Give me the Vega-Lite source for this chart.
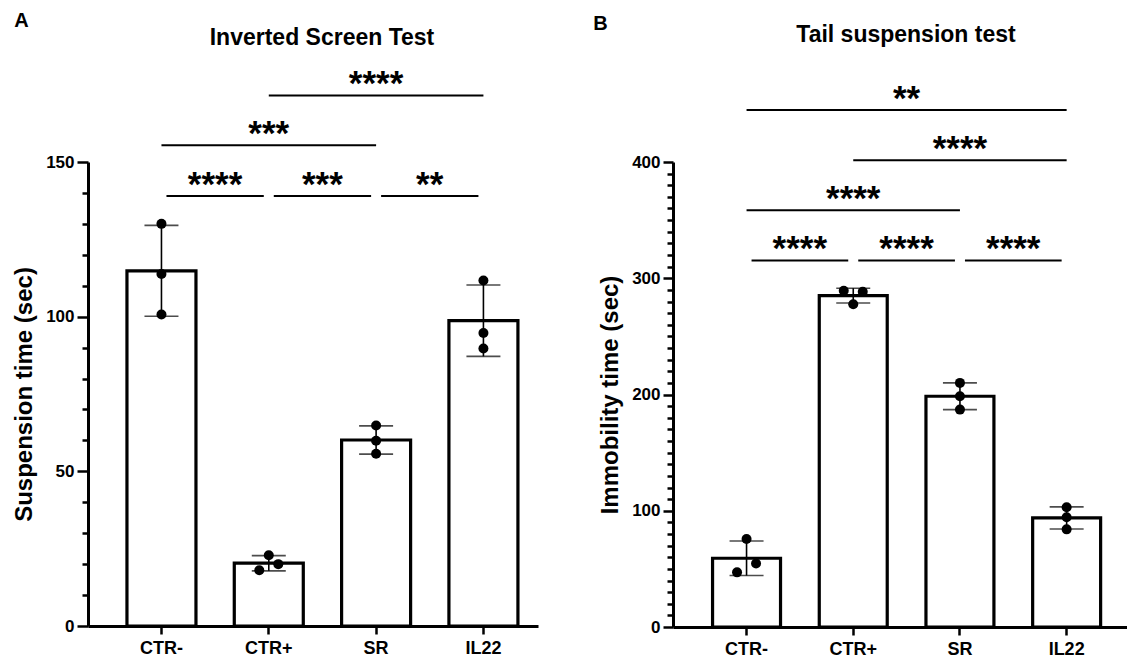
{
  "$schema": "https://vega.github.io/schema/vega-lite/v6.json",
  "padding": {"left": 12, "top": 11, "right": 0, "bottom": 2},
  "spacing": 55,
  "config": {
    "font": "Liberation Sans",
    "view": {"stroke": null},
    "axis": {
      "domainColor": "black", "domainWidth": 3, "tickColor": "black", "tickWidth": 2.5,
      "labelColor": "black", "labelFontWeight": "bold", "labelFontSize": 17, "labelFont": "Liberation Sans",
      "titleColor": "black", "titleFontWeight": "bold", "titleFontSize": 24, "titleFont": "Liberation Sans",
      "grid": false
    },
    "axisX": {"tickSize": 8, "labelFontSize": 18, "labelPadding": 5, "labelAngle": 0},
    "axisY": {"labelPadding": 3, "titlePadding": 9.5, "labelOverlap": false, "labelFlush": false},
    "title": {"color": "black", "font": "Liberation Sans", "fontWeight": "bold"}
  },
  "datasets": {
    "ptsA": [
      {"group": "CTR-", "value": 130.0, "slot": "C"},
      {"group": "CTR-", "value": 113.8, "slot": "C"},
      {"group": "CTR-", "value": 100.7, "slot": "C"},
      {"group": "CTR+", "value": 22.9, "slot": "C"},
      {"group": "CTR+", "value": 20.0, "slot": "R"},
      {"group": "CTR+", "value": 18.0, "slot": "L"},
      {"group": "SR", "value": 64.8, "slot": "C"},
      {"group": "SR", "value": 59.9, "slot": "C"},
      {"group": "SR", "value": 55.7, "slot": "C"},
      {"group": "IL22", "value": 111.7, "slot": "C"},
      {"group": "IL22", "value": 94.7, "slot": "C"},
      {"group": "IL22", "value": 89.7, "slot": "C"}
    ],
    "ptsB": [
      {"group": "CTR-", "value": 75.7, "slot": "C"},
      {"group": "CTR-", "value": 54.7, "slot": "R"},
      {"group": "CTR-", "value": 47.0, "slot": "L"},
      {"group": "CTR+", "value": 289.2, "slot": "L"},
      {"group": "CTR+", "value": 288.3, "slot": "R"},
      {"group": "CTR+", "value": 277.7, "slot": "C"},
      {"group": "SR", "value": 210.0, "slot": "C"},
      {"group": "SR", "value": 198.5, "slot": "C"},
      {"group": "SR", "value": 187.0, "slot": "C"},
      {"group": "IL22", "value": 103.0, "slot": "C"},
      {"group": "IL22", "value": 94.4, "slot": "C"},
      {"group": "IL22", "value": 84.0, "slot": "C"}
    ],
    "sigA": [
      {"from": "CTR-", "to": "CTR+", "span": 1, "y": 139.0, "label": "****"},
      {"from": "CTR+", "to": "SR", "span": 1, "y": 139.0, "label": "***"},
      {"from": "SR", "to": "IL22", "span": 1, "y": 139.0, "label": "**"},
      {"from": "CTR-", "to": "SR", "span": 2, "y": 155.4, "label": "***"},
      {"from": "CTR+", "to": "IL22", "span": 2, "y": 171.5, "label": "****"}
    ],
    "sigB": [
      {"from": "CTR-", "to": "CTR+", "span": 1, "y": 315.3, "label": "****"},
      {"from": "CTR+", "to": "SR", "span": 1, "y": 315.3, "label": "****"},
      {"from": "SR", "to": "IL22", "span": 1, "y": 315.3, "label": "****"},
      {"from": "CTR-", "to": "SR", "span": 2, "y": 358.4, "label": "****"},
      {"from": "CTR+", "to": "IL22", "span": 2, "y": 401.5, "label": "****"},
      {"from": "CTR-", "to": "IL22", "span": 3, "y": 444.8, "label": "**"}
    ]
  },
  "hconcat": [
    {
      "title": {"text": "A", "anchor": "start", "fontSize": 20, "offset": -4, "dx": 2},
      "vconcat": [
        {
          "width": 450,
          "height": 464,
          "title": {"text": "Inverted Screen Test", "fontSize": 23, "offset": 17, "dx": 9},
          "encoding": {
            "x": {"field": "group", "type": "nominal", "title": null,
                  "scale": {"domain": ["CTR-", "CTR+", "SR", "IL22"], "paddingInner": 0.357, "paddingOuter": 0.275, "align": 0.66}},
            "y": {"field": "value", "type": "quantitative", "title": "Suspension time (sec)",
                  "scale": {"domain": [0, 150], "nice": false},
                  "axis": {"values": [0,10,20,30,40,50,60,70,80,90,100,110,120,130,140,150],
                           "labelExpr": "datum.value % 50 === 0 ? datum.label : ''",
                           "tickSize": {"condition": {"test": "datum.value % 50 === 0", "value": 11}, "value": 6}}}
          },
          "layer": [
            {
              "data": {"name": "ptsA"},
              "transform": [{"aggregate": [{"op": "mean", "field": "value", "as": "value"}], "groupby": ["group"]}],
              "mark": {"type": "bar", "fill": "white", "stroke": "black", "strokeWidth": 3.2}
            },
            {
              "data": {"name": "ptsA"},
              "mark": {"type": "errorbar", "extent": "stdev", "ticks": {"size": 34, "thickness": 1.6, "color": "black"}, "rule": {"strokeWidth": 1.6, "color": "black"}}
            },
            {
              "data": {"name": "ptsA"},
              "transform": [{"filter": "datum.slot === 'C'"}],
              "mark": {"type": "circle", "size": 100, "color": "black", "opacity": 1}
            },
            {
              "data": {"name": "ptsA"},
              "transform": [{"filter": "datum.slot === 'L'"}],
              "mark": {"type": "circle", "size": 100, "color": "black", "opacity": 1, "xOffset": -9.5}
            },
            {
              "data": {"name": "ptsA"},
              "transform": [{"filter": "datum.slot === 'R'"}],
              "mark": {"type": "circle", "size": 100, "color": "black", "opacity": 1, "xOffset": 9.5}
            },
            {
              "data": {"name": "sigA"},
              "transform": [{"filter": "datum.span === 1"}],
              "mark": {"type": "rule", "strokeWidth": 2, "color": "black", "xOffset": 5, "x2Offset": -5},
              "encoding": {"x": {"field": "from", "type": "nominal"}, "x2": {"field": "to"},
                           "y": {"field": "y", "type": "quantitative", "title": "Suspension time (sec)"}}
            },
            {
              "data": {"name": "sigA"},
              "transform": [{"filter": "datum.span > 1"}],
              "mark": {"type": "rule", "strokeWidth": 2, "color": "black"},
              "encoding": {"x": {"field": "from", "type": "nominal"}, "x2": {"field": "to"},
                           "y": {"field": "y", "type": "quantitative", "title": "Suspension time (sec)"}}
            },
            {
              "data": {"name": "sigA"},
              "transform": [{"filter": "datum.span === 1"}],
              "mark": {"type": "text", "fontSize": 35, "fontWeight": "bold", "baseline": "alphabetic", "dy": 0, "dx": 53.6, "color": "black"},
              "encoding": {"x": {"field": "from", "type": "nominal"},
                           "y": {"field": "y", "type": "quantitative", "title": "Suspension time (sec)"}, "text": {"field": "label"}}
            },
            {
              "data": {"name": "sigA"},
              "transform": [{"filter": "datum.span === 2"}],
              "mark": {"type": "text", "fontSize": 35, "fontWeight": "bold", "baseline": "alphabetic", "dy": 0, "dx": 107.3, "color": "black"},
              "encoding": {"x": {"field": "from", "type": "nominal"},
                           "y": {"field": "y", "type": "quantitative", "title": "Suspension time (sec)"}, "text": {"field": "label"}}
            }
          ]
        }
      ]
    },
    {
      "title": {"text": "B", "anchor": "start", "fontSize": 20, "offset": -10, "dx": -5},
      "vconcat": [
        {
          "width": 454,
          "height": 465,
          "title": {"text": "Tail suspension test", "fontSize": 23, "offset": 35, "dx": 6},
          "encoding": {
            "x": {"field": "group", "type": "nominal", "title": null,
                  "scale": {"domain": ["CTR-", "CTR+", "SR", "IL22"], "paddingInner": 0.363, "paddingOuter": 0.309, "align": 0.6}},
            "y": {"field": "value", "type": "quantitative", "title": "Immobility time (sec)",
                  "scale": {"domain": [0, 400], "nice": false},
                  "axis": {"values": [0,10,20,30,40,50,60,70,80,90,100,110,120,130,140,150,160,170,180,190,200,210,220,230,240,250,260,270,280,290,300,310,320,330,340,350,360,370,380,390,400],
                           "labelExpr": "datum.value % 100 === 0 ? datum.label : ''",
                           "tickSize": {"condition": {"test": "datum.value % 100 === 0", "value": 10}, "value": 6}}}
          },
          "layer": [
            {
              "data": {"name": "ptsB"},
              "transform": [{"aggregate": [{"op": "mean", "field": "value", "as": "value"}], "groupby": ["group"]}],
              "mark": {"type": "bar", "fill": "white", "stroke": "black", "strokeWidth": 3.2}
            },
            {
              "data": {"name": "ptsB"},
              "mark": {"type": "errorbar", "extent": "stdev", "ticks": {"size": 34, "thickness": 1.6, "color": "black"}, "rule": {"strokeWidth": 1.6, "color": "black"}}
            },
            {
              "data": {"name": "ptsB"},
              "transform": [{"filter": "datum.slot === 'C'"}],
              "mark": {"type": "circle", "size": 100, "color": "black", "opacity": 1}
            },
            {
              "data": {"name": "ptsB"},
              "transform": [{"filter": "datum.slot === 'L'"}],
              "mark": {"type": "circle", "size": 100, "color": "black", "opacity": 1, "xOffset": -9.5}
            },
            {
              "data": {"name": "ptsB"},
              "transform": [{"filter": "datum.slot === 'R'"}],
              "mark": {"type": "circle", "size": 100, "color": "black", "opacity": 1, "xOffset": 9.5}
            },
            {
              "data": {"name": "sigB"},
              "transform": [{"filter": "datum.span === 1"}],
              "mark": {"type": "rule", "strokeWidth": 2, "color": "black", "xOffset": 5, "x2Offset": -5},
              "encoding": {"x": {"field": "from", "type": "nominal"}, "x2": {"field": "to"},
                           "y": {"field": "y", "type": "quantitative", "title": "Immobility time (sec)"}}
            },
            {
              "data": {"name": "sigB"},
              "transform": [{"filter": "datum.span > 1"}],
              "mark": {"type": "rule", "strokeWidth": 2, "color": "black"},
              "encoding": {"x": {"field": "from", "type": "nominal"}, "x2": {"field": "to"},
                           "y": {"field": "y", "type": "quantitative", "title": "Immobility time (sec)"}}
            },
            {
              "data": {"name": "sigB"},
              "transform": [{"filter": "datum.span === 1"}],
              "mark": {"type": "text", "fontSize": 35, "fontWeight": "bold", "baseline": "alphabetic", "dy": 0, "dx": 53.3, "color": "black"},
              "encoding": {"x": {"field": "from", "type": "nominal"},
                           "y": {"field": "y", "type": "quantitative", "title": "Immobility time (sec)"}, "text": {"field": "label"}}
            },
            {
              "data": {"name": "sigB"},
              "transform": [{"filter": "datum.span === 2"}],
              "mark": {"type": "text", "fontSize": 35, "fontWeight": "bold", "baseline": "alphabetic", "dy": 0, "dx": 106.7, "color": "black"},
              "encoding": {"x": {"field": "from", "type": "nominal"},
                           "y": {"field": "y", "type": "quantitative", "title": "Immobility time (sec)"}, "text": {"field": "label"}}
            },
            {
              "data": {"name": "sigB"},
              "transform": [{"filter": "datum.span === 3"}],
              "mark": {"type": "text", "fontSize": 35, "fontWeight": "bold", "baseline": "alphabetic", "dy": 0, "dx": 160, "color": "black"},
              "encoding": {"x": {"field": "from", "type": "nominal"},
                           "y": {"field": "y", "type": "quantitative", "title": "Immobility time (sec)"}, "text": {"field": "label"}}
            }
          ]
        }
      ]
    }
  ]
}
